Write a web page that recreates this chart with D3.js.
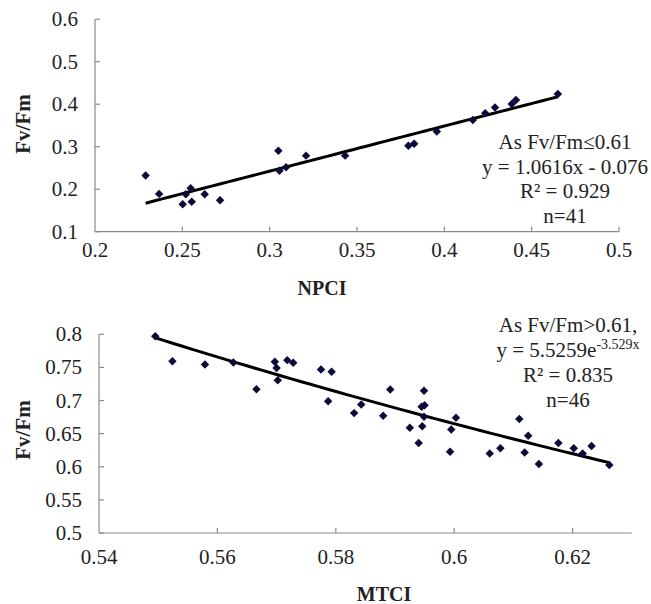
<!DOCTYPE html>
<html><head><meta charset="utf-8">
<script src="https://cdn.jsdelivr.net/npm/d3@7"></script>
<style>body{margin:0;background:#fff}svg{display:block}</style>
</head><body><svg id="c" width="651" height="604" font-family="'Liberation Serif', 'Times New Roman', 'DejaVu Serif', serif"></svg>
<script>
// Top panel: NPCI vs Fv/Fm
const npciX = [0.229,0.2367,0.2502,0.252,0.2548,0.2554,0.2628,0.2716,0.305,0.3056,0.3094,0.3208,0.3432,0.3794,0.3827,0.3957,0.4163,0.4234,0.429,0.4386,0.441,0.465];
const npciY = [0.232,0.189,0.1645,0.188,0.202,0.1706,0.188,0.174,0.2906,0.2435,0.2515,0.279,0.279,0.302,0.307,0.336,0.363,0.379,0.392,0.4005,0.41,0.424];
const topXTicks = [0.2,0.25,0.3,0.35,0.4,0.45,0.5];
const topYTicks = [0.1,0.2,0.3,0.4,0.5,0.6];
const topFit = {slope:1.0616, intercept:-0.076, from:0.229, to:0.465};
const topNote = ["As Fv/Fm\u22640.61","y = 1.0616x - 0.076","R\u00b2 = 0.929","n=41"];

// Bottom panel: MTCI vs Fv/Fm
const mtciX = [0.5495,0.5524,0.5579,0.5627,0.5666,0.5697,0.570,0.5702,0.5718,0.5728,0.5775,0.5793,0.5787,0.5831,0.5843,0.5892,0.588,0.5925,0.594,0.5949,0.5945,0.595,0.5949,0.5946,0.6003,0.5995,0.5993,0.606,0.6078,0.611,0.6125,0.6119,0.6143,0.6176,0.6202,0.6217,0.6232,0.6262];
const mtciY = [0.797,0.7594,0.7544,0.7575,0.7172,0.7584,0.749,0.7308,0.761,0.757,0.747,0.7433,0.699,0.681,0.694,0.7167,0.677,0.659,0.636,0.7146,0.6905,0.693,0.6754,0.661,0.674,0.6564,0.6226,0.620,0.6278,0.672,0.6468,0.6217,0.604,0.636,0.6278,0.620,0.6312,0.6026];
const botXTicks = [0.54,0.56,0.58,0.6,0.62];
const botYTicks = [0.5,0.55,0.6,0.65,0.7,0.75,0.8];
const botFit = {a:5.5259, b:-3.529, from:0.5495, to:0.6262};

const svg = d3.select("#c");
const axisCol = "#8a8a8a";
const markCol = "#0b0b3b";
const fs = 21;

function panel(o){
  const g = svg.append("g");
  const x = d3.scaleLinear().domain(o.xDom).range(o.xRange);
  const y = d3.scaleLinear().domain(o.yDom).range(o.yRange);
  g.append("line").attr("x1",x(o.xDom[0])).attr("x2",x(o.xDom[1])).attr("y1",y(o.yDom[0])).attr("y2",y(o.yDom[0])).attr("stroke",axisCol).attr("stroke-width",1.2);
  g.append("line").attr("x1",x(o.xDom[0])).attr("x2",x(o.xDom[0])).attr("y1",y(o.yDom[0])).attr("y2",y(o.yDom[1])).attr("stroke",axisCol).attr("stroke-width",1.2);
  o.xTicks.forEach((t,i)=>{
    if(i>0) g.append("line").attr("x1",x(t)).attr("x2",x(t)).attr("y1",y(o.yDom[0])).attr("y2",y(o.yDom[0])-5).attr("stroke",axisCol).attr("stroke-width",1.2);
    g.append("text").attr("x",x(t)).attr("y",o.xLabelY).attr("text-anchor","middle").attr("font-size",fs).attr("fill","#222").text(String(t));
  });
  o.yTicks.forEach(t=>{
    g.append("line").attr("x1",x(o.xDom[0])).attr("x2",x(o.xDom[0])+5).attr("y1",y(t)).attr("y2",y(t)).attr("stroke",axisCol).attr("stroke-width",1.2);
    g.append("text").attr("x",o.yLabelX).attr("y",y(t)+7).attr("text-anchor","end").attr("font-size",fs).attr("fill","#222").text(String(t));
  });
  const xs = d3.range(0,51).map(i=>o.fit.from+(o.fit.to-o.fit.from)*i/50);
  g.append("path").attr("d",d3.line().x(d=>x(d)).y(d=>y(o.fitFn(d)))(xs)).attr("fill","none").attr("stroke","#000").attr("stroke-width",3);
  const sym = d3.symbol().type(d3.symbolSquare).size(36);
  o.xs.forEach((v,i)=>{
    g.append("path").attr("d",sym()).attr("transform",`translate(${x(v)},${y(o.ys[i])}) rotate(45)`).attr("fill",markCol);
  });
  g.append("text").attr("x",o.xTitle[0]).attr("y",o.xTitle[1]).attr("text-anchor","middle").attr("font-size",20).attr("font-weight","bold").attr("fill","#222").text(o.xName);
  g.append("text").attr("transform",`translate(${o.yTitle[0]},${o.yTitle[1]}) rotate(-90)`).attr("text-anchor","middle").attr("font-size",21).attr("font-weight","bold").attr("fill","#222").text("Fv/Fm");
  return {g,x,y};
}

const topPanel = panel({xDom:[0.2,0.5], xRange:[95,619], yDom:[0.1,0.6], yRange:[231.7,19.2],
  xTicks:topXTicks, yTicks:topYTicks, xLabelY:257, yLabelX:78,
  xs:npciX, ys:npciY, fit:topFit, fitFn:v=>topFit.slope*v+topFit.intercept,
  xName:"NPCI", xTitle:[322,295], yTitle:[30,124]});
topNote.forEach((t,i)=>{
  topPanel.g.append("text").attr("x",565).attr("y",149+i*24.7).attr("text-anchor","middle").attr("font-size",fs).attr("fill","#222").text(t);
});

const botPanel = panel({xDom:[0.54,0.63], xRange:[99,631.8], yDom:[0.5,0.8], yRange:[533,334.3],
  xTicks:botXTicks, yTicks:botYTicks, xLabelY:564, yLabelX:82,
  xs:mtciX, ys:mtciY, fit:botFit, fitFn:v=>botFit.a*Math.exp(botFit.b*v),
  xName:"MTCI", xTitle:[384,601], yTitle:[30,430]});
const bn = botPanel.g.append("g").attr("font-size",fs).attr("fill","#222").attr("text-anchor","middle");
bn.append("text").attr("x",568).attr("y",332).text("As Fv/Fm>0.61,");
const eq = bn.append("text").attr("x",568).attr("y",357);
eq.append("tspan").text("y = 5.5259e");
eq.append("tspan").attr("dy",-8).attr("font-size",14).text("-3.529x");
bn.append("text").attr("x",568).attr("y",382).text("R\u00b2 = 0.835");
bn.append("text").attr("x",568).attr("y",407).text("n=46");
</script></body></html>
